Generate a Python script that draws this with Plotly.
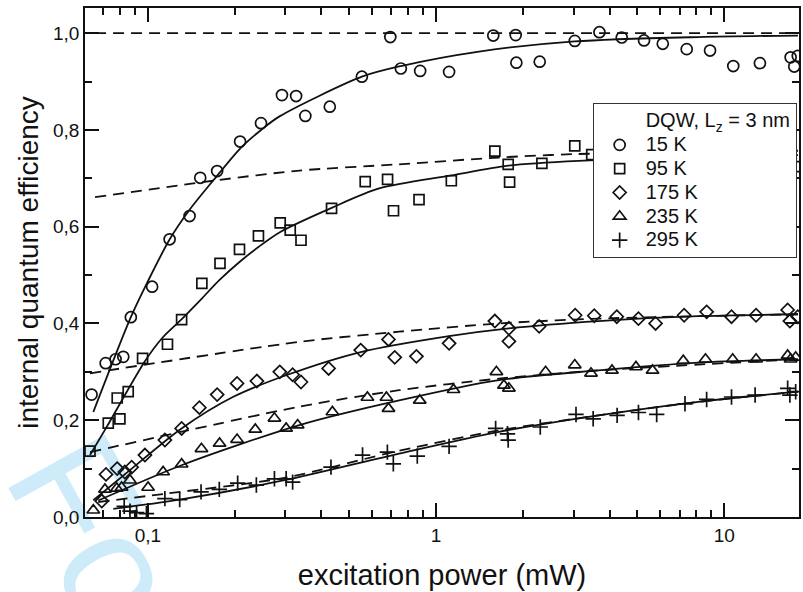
import plotly.graph_objects as go

# ---------------- data ----------------
temps = ["15 K", "95 K", "175 K", "235 K", "295 K"]

x15 = [0.0638, 0.0714, 0.0773, 0.0822, 0.0873, 0.1035, 0.119, 0.1396, 0.152, 0.174,
       0.209, 0.247, 0.292, 0.327, 0.352, 0.428, 0.553, 0.694, 0.755, 0.881, 1.11,
       1.58, 1.89, 1.90, 2.29, 3.03, 3.69, 4.41, 5.27, 6.12, 7.41, 8.93, 10.75, 13.3,
       17.0, 17.5, 18.0]
y15 = [0.253, 0.318, 0.326, 0.331, 0.413, 0.476, 0.574, 0.622, 0.701, 0.715,
       0.776, 0.814, 0.872, 0.870, 0.829, 0.848, 0.910, 0.992, 0.927, 0.922, 0.920,
       0.995, 0.996, 0.939, 0.941, 0.984, 1.002, 0.991, 0.985, 0.978, 0.967, 0.964, 0.932, 0.938,
       0.950, 0.931, 0.953]

x95 = [0.063, 0.0729, 0.0783, 0.080, 0.0855, 0.0959, 0.117, 0.131, 0.154, 0.178,
       0.208, 0.242, 0.288, 0.312, 0.340, 0.434, 0.568, 0.679, 0.712, 0.873, 1.13,
       1.60, 1.78, 1.80, 2.33, 3.03, 3.47, 17.8]
y95 = [0.136, 0.194, 0.246, 0.203, 0.259, 0.328, 0.357, 0.408, 0.483, 0.524,
       0.553, 0.581, 0.608, 0.593, 0.572, 0.638, 0.693, 0.698, 0.633, 0.656, 0.695,
       0.756, 0.729, 0.692, 0.731, 0.767, 0.749, 0.724]

x175 = [0.0692, 0.0716, 0.0783, 0.0832, 0.0879, 0.0977, 0.1146, 0.131, 0.151, 0.174,
        0.204, 0.239, 0.287, 0.318, 0.340, 0.424, 0.548, 0.684, 0.719, 0.855, 1.11,
        1.60, 1.79, 1.79, 2.28, 3.04, 3.54, 4.24, 5.04, 5.78, 7.26, 8.69, 10.6, 12.9,
        16.6, 16.9, 18.0]
y175 = [0.033, 0.088, 0.100, 0.093, 0.103, 0.128, 0.159, 0.183, 0.226, 0.253,
        0.276, 0.281, 0.300, 0.294, 0.279, 0.307, 0.345, 0.367, 0.330, 0.332, 0.359,
        0.405, 0.390, 0.363, 0.394, 0.417, 0.416, 0.414, 0.410, 0.400, 0.417, 0.424, 0.414, 0.417,
        0.428, 0.405, 0.414]

x235 = [0.0647, 0.0710, 0.0780, 0.0811, 0.0867, 0.1002, 0.113, 0.131, 0.1535, 0.1774,
        0.204, 0.236, 0.275, 0.302, 0.331, 0.437, 0.578, 0.673, 0.684, 0.878, 1.15,
        1.62, 1.72, 1.79, 2.40, 3.03, 3.45, 4.08, 4.94, 5.64, 7.21, 8.61, 10.7, 12.9,
        16.6, 17.0, 17.7]
y235 = [0.014, 0.057, 0.059, 0.061, 0.076, 0.061, 0.093, 0.109, 0.141, 0.152,
        0.160, 0.181, 0.204, 0.183, 0.190, 0.217, 0.247, 0.247, 0.224, 0.241, 0.263,
        0.300, 0.272, 0.266, 0.300, 0.314, 0.297, 0.303, 0.310, 0.303, 0.323, 0.326, 0.326, 0.326,
        0.334, 0.326, 0.330]

x295 = [0.0828, 0.0867, 0.0914, 0.0989, 0.1146, 0.129, 0.153, 0.177, 0.205, 0.238,
        0.275, 0.302, 0.318, 0.432, 0.556, 0.678, 0.711, 0.861, 1.11, 1.61, 1.77, 1.78,
        2.30, 3.06, 3.51, 4.25, 5.04, 5.83, 7.31, 8.69, 10.6, 12.8, 16.6, 16.9, 17.7]
y295 = [0.022, 0.012, 0.009, 0.007, 0.038, 0.036, 0.052, 0.057, 0.070, 0.066,
        0.079, 0.079, 0.072, 0.103, 0.128, 0.134, 0.110, 0.126, 0.146, 0.183, 0.172, 0.159,
        0.186, 0.212, 0.203, 0.210, 0.216, 0.212, 0.234, 0.243, 0.248, 0.252, 0.266, 0.252, 0.259]

# fitted curves (solid) and dashed curves
fit15_x = [0.0647, 0.0873, 0.1, 0.1191, 0.1396, 0.1738, 0.2094, 0.2472, 0.2864,
           0.553, 0.755, 1.41, 3.03, 8.13, 18.03]
fit15_y = [0.217, 0.413, 0.487, 0.574, 0.635, 0.705, 0.762, 0.800, 0.828,
           0.910, 0.932, 0.962, 0.983, 0.992, 0.995]
dash15_x = [0.0656, 18.03]
dash15_y = [1.0, 1.0]

fit95_x = [0.0630, 0.0710, 0.0977, 0.1122, 0.1306, 0.1542, 0.1774, 0.208, 0.242, 0.290,
           0.4345, 0.635, 1.13, 1.778, 3.126, 18.03]
fit95_y = [0.128, 0.180, 0.322, 0.370, 0.408, 0.452, 0.490, 0.527, 0.558, 0.590,
           0.639, 0.679, 0.706, 0.726, 0.736, 0.748]
dash95_x = [0.0656, 0.1738, 0.3357, 0.745, 1.652, 3.03, 18.03]
dash95_y = [0.661, 0.696, 0.716, 0.729, 0.743, 0.750, 0.757]

fit175_x = [0.0647, 0.0867, 0.1309, 0.1972, 0.302, 0.548, 1.109, 1.79, 3.664, 8.13, 18.03]
fit175_y = [0.0345, 0.097, 0.183, 0.248, 0.293, 0.341, 0.374, 0.390, 0.405, 0.415, 0.419]
dash175_x = [0.0630, 0.3357, 0.745, 1.652, 3.664, 18.03]
dash175_y = [0.297, 0.362, 0.383, 0.400, 0.410, 0.419]

fit235_x = [0.0673, 0.1309, 0.3357, 0.745, 1.652, 3.664, 8.13, 18.03]
fit235_y = [0.034, 0.107, 0.190, 0.241, 0.283, 0.303, 0.319, 0.326]
dash235_x = [0.0630, 0.3357, 0.745, 1.652, 3.664, 18.03]
dash235_y = [0.134, 0.228, 0.262, 0.286, 0.303, 0.326]

fit295_x = [0.0759, 0.129, 0.2979, 0.745, 1.652, 3.664, 8.13, 18.03]
fit295_y = [0.017, 0.036, 0.076, 0.131, 0.176, 0.210, 0.238, 0.259]
dash295_x = [0.0673, 0.1146, 0.2979, 0.745, 1.652, 3.664, 8.13, 18.03]
dash295_y = [0.031, 0.048, 0.081, 0.137, 0.179, 0.210, 0.238, 0.259]

legend_title = "DQW, L<sub>z</sub> = 3 nm"

x_major = [0.1, 1, 10]
x_major_text = ["0,1", "1", "10"]
x_minor = [0.07, 0.08, 0.09, 0.2, 0.3, 0.4, 0.5, 0.6, 0.7, 0.8, 0.9,
           2, 3, 4, 5, 6, 7, 8, 9]
y_major = [0.0, 0.2, 0.4, 0.6, 0.8, 1.0]
y_major_text = ["0,0", "0,2", "0,4", "0,6", "0,8", "1,0"]
y_minor = [0.1, 0.3, 0.5, 0.7, 0.9]

watermark = "For Review Only"

# ---------------- figure ----------------
FONT = "Liberation Sans, Arial, sans-serif"
INK = "#111111"
DASH = "11px,7px"


def big(s):
    return '<span style="font-size:20px">' + s + '</span>'


fig = go.Figure()

curves = [(fit15_x, fit15_y, "solid"), (dash15_x, dash15_y, DASH),
          (fit95_x, fit95_y, "solid"), (dash95_x, dash95_y, DASH),
          (fit175_x, fit175_y, "solid"), (dash175_x, dash175_y, DASH),
          (fit235_x, fit235_y, "solid"), (dash235_x, dash235_y, DASH),
          (fit295_x, fit295_y, "solid"), (dash295_x, dash295_y, DASH)]
for cx, cy, dsh in curves:
    fig.add_trace(go.Scatter(x=cx, y=cy, mode="lines", showlegend=False, hoverinfo="skip",
                             line=dict(color=INK, width=1.8, dash=dsh, shape="spline", smoothing=0.8)))

# legend heading as an empty entry
fig.add_trace(go.Scatter(x=[None], y=[None], mode="markers", name=big(legend_title),
                         marker=dict(color="rgba(0,0,0,0)", size=1, line=dict(width=0))))

series = [(x15, y15, "circle-open", 11), (x95, y95, "square-open", 10),
          (x175, y175, "diamond-open", 10), (x235, y235, "triangle-up-open", 11),
          (x295, y295, "cross-thin-open", 11)]
for (sx, sy, sym, sz), name in zip(series, temps):
    fig.add_trace(go.Scatter(x=sx, y=sy, mode="markers", name=big(name),
                             marker=dict(symbol=sym, size=sz, color=INK,
                                         line=dict(color=INK, width=1.7))))

axis_common = dict(showline=True, linecolor=INK, linewidth=1.5, mirror="ticks",
                   ticks="inside", tickcolor=INK, tickwidth=1.5, ticklen=14,
                   showgrid=False, zeroline=False,
                   tickfont=dict(family=FONT, size=19, color=INK))

fig.update_xaxes(type="log", range=[-1.218, 1.2595],
                 tickvals=x_major, ticktext=x_major_text,
                 minor=dict(tickvals=x_minor, ticks="inside", ticklen=7, tickwidth=1.5, tickcolor=INK),
                 title=dict(text="excitation power (mW)", standoff=20,
                            font=dict(family=FONT, size=29, color=INK)),
                 **axis_common)
fig.update_yaxes(range=[0, 1.052], tickvals=y_major, ticktext=y_major_text,
                 minor=dict(tickvals=y_minor, ticks="inside", ticklen=7, tickwidth=1.5, tickcolor=INK),
                 title=dict(text="internal quantum efficiency", standoff=6,
                            font=dict(family=FONT, size=28, color=INK)),
                 **axis_common)

# faint watermark, drawn below the data
fig.add_shape(type="rect", xref="paper", yref="paper",
              x0=0.33, x1=0.413, y0=-0.90, y1=-0.838,
              line=dict(width=0, color="rgba(0,0,0,0)"), fillcolor="rgba(0,0,0,0)",
              layer="below",
              label=dict(text=watermark, textposition="middle center", textangle=61,
                         font=dict(family=FONT, size=160, color="#cdebf9"), padding=0))

fig.update_layout(
    width=803, height=592,
    margin=dict(l=85, r=2, t=8, b=75),
    paper_bgcolor="white", plot_bgcolor="white",
    font=dict(family=FONT, color=INK),
    legend=dict(x=0.711, y=0.813, xanchor="left", yanchor="top",
                bgcolor="white", bordercolor="#333333", borderwidth=1,
                itemwidth=42,
                font=dict(family=FONT, size=16, color=INK)),
)

fig.write_html("out.html")
